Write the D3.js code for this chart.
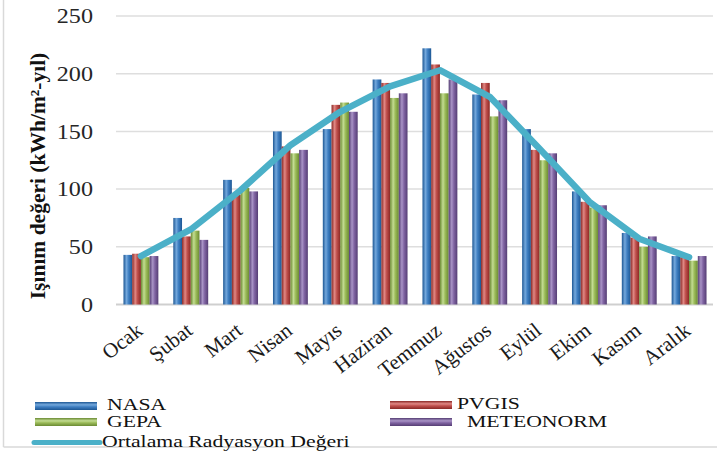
<!DOCTYPE html>
<html><head><meta charset="utf-8">
<script src="https://cdn.jsdelivr.net/npm/d3@7"></script>
<style>body{margin:0;background:#fff}svg{display:block}</style>
</head><body>
<svg id="c" width="717" height="454"></svg>
<script>
const months = ["Ocak","Şubat","Mart","Nisan","Mayıs","Haziran","Temmuz","Ağustos","Eylül","Ekim","Kasım","Aralık"];
const nasa = [43, 75, 108, 150, 152, 195, 222, 182, 152, 98, 62, 42];
const pvgis = [44, 59, 95, 137, 173, 192, 208, 192, 134, 89, 58, 41];
const gepa = [41, 64, 101, 131, 175, 179, 183, 163, 125, 84, 50, 38];
const meteonorm = [42, 56, 98, 134, 167, 183, 195, 177, 131, 86, 59, 42];
const average = [42, 65, 99, 138, 167, 189, 203, 180, 135, 89, 57, 41];
const yTicks = [0, 50, 100, 150, 200, 250];
const seriesNames = ["NASA","PVGIS","GEPA","METEONORM"];
const avgName = "Ortalama Radyasyon Değeri";
const yTitle = "Işınım değeri (kWh/m²-yıl)";

const seriesData = [nasa, pvgis, gepa, meteonorm];
const palette = [
  ["#1d5794","#3f7fc2","#74a8dc"],
  ["#8a2825","#c0504d","#e08884"],
  ["#6a8a33","#9bbb59","#c3dc92"],
  ["#553e74","#8064a2","#a994c6"]
];
const lineColor = "#4bb0c8";
const FONT = "'Liberation Serif', 'Times New Roman', serif";

const svg = d3.select("#c");
const defs = svg.append("defs");
palette.forEach((p,i)=>{
  const g = defs.append("linearGradient").attr("id","bg"+i).attr("x1",0).attr("x2",1).attr("y1",0).attr("y2",0);
  g.append("stop").attr("offset","0%").attr("stop-color",p[0]);
  g.append("stop").attr("offset","35%").attr("stop-color",p[2]);
  g.append("stop").attr("offset","60%").attr("stop-color",p[1]);
  g.append("stop").attr("offset","100%").attr("stop-color",p[0]);
  const h = defs.append("linearGradient").attr("id","lg"+i).attr("x1",0).attr("x2",0).attr("y1",0).attr("y2",1);
  h.append("stop").attr("offset","0%").attr("stop-color",p[0]);
  h.append("stop").attr("offset","35%").attr("stop-color",p[2]);
  h.append("stop").attr("offset","60%").attr("stop-color",p[1]);
  h.append("stop").attr("offset","100%").attr("stop-color",p[0]);
});

const x = d3.scaleBand().domain(months).range([116, 714]).paddingInner(0.3).paddingOuter(0.15);
const xs = d3.scaleBand().domain(d3.range(4)).range([0, x.bandwidth()]);
const y = d3.scaleLinear().domain([0, 250]).range([304.5, 16]);

// frame
svg.append("line").attr("x1",3.5).attr("x2",3.5).attr("y1",0).attr("y2",447).attr("stroke","#d9d9d9").attr("stroke-width",1.5);
svg.append("line").attr("x1",3.5).attr("x2",717).attr("y1",447).attr("y2",447).attr("stroke","#d9d9d9").attr("stroke-width",1.5);

// grid
svg.append("g").selectAll("line").data(yTicks).join("line")
  .attr("x1",116).attr("x2",713).attr("y1",d=>y(d)).attr("y2",d=>y(d))
  .attr("stroke",d=>d===0?"#cfcfcf":"#dedede").attr("stroke-width",d=>d===0?2:1.5);

// y tick labels
svg.append("g").selectAll("text").data(yTicks).join("text")
  .attr("transform",d=>`translate(93,${y(d)}) scale(1.15,1)`)
  .attr("dy","0.35em").attr("text-anchor","end")
  .attr("font-family",FONT).attr("font-size",21).attr("fill","#262626")
  .text(d=>d);

// y title
svg.append("text").attr("transform","translate(45,176) rotate(-90)")
  .attr("text-anchor","middle").attr("font-family",FONT)
  .attr("font-weight","bold").attr("font-size",21.5).attr("fill","#111")
  .text(yTitle);

// bars
const groups = svg.append("g").selectAll("g").data(months).join("g")
  .attr("transform",d=>`translate(${x(d)},0)`);
groups.selectAll("rect").data((m,i)=>seriesData.map((s,k)=>({k, v:s[i]}))).join("rect")
  .attr("x",d=>xs(d.k)).attr("width",xs.bandwidth())
  .attr("y",d=>y(d.v)).attr("height",d=>y(0)-y(d.v))
  .attr("fill",d=>`url(#bg${d.k})`);

// average line
const line = d3.line().x((d,i)=>x(months[i])+x.bandwidth()/2).y(d=>y(d));
svg.append("path").datum(average).attr("d",line).attr("fill","none")
  .attr("stroke",lineColor).attr("stroke-width",6.5).attr("stroke-linejoin","round").attr("stroke-linecap","round");

// month labels
svg.append("g").selectAll("text").data(months).join("text")
  .attr("transform",d=>`translate(${x(d)+x.bandwidth()/2+3},333) rotate(-38)`)
  .attr("text-anchor","end")
  .attr("font-family",FONT).attr("font-size",21).attr("fill","#1a1a1a")
  .text(d=>d);

// legend
const legItems = [
  {name:seriesNames[0], k:0, sx:35, sy:402, tx:107, ty:410},
  {name:seriesNames[1], k:1, sx:390, sy:401, tx:457, ty:409},
  {name:seriesNames[2], k:2, sx:35, sy:418, tx:107, ty:427},
  {name:seriesNames[3], k:3, sx:390, sy:418, tx:467, ty:427}
];
const lg = svg.append("g");
legItems.forEach(it=>{
  lg.append("rect").attr("x",it.sx).attr("y",it.sy).attr("width",62).attr("height",8).attr("fill",`url(#lg${it.k})`);
  lg.append("text").attr("transform",`translate(${it.tx},${it.ty}) scale(1.36,1)`)
    .attr("font-family",FONT).attr("font-size",16).attr("fill","#111").text(it.name);
});
lg.append("line").attr("x1",34).attr("x2",100).attr("y1",442.5).attr("y2",442.5)
  .attr("stroke",lineColor).attr("stroke-width",5).attr("stroke-linecap","round");
lg.append("text").attr("transform","translate(102,447) scale(1.36,1)")
  .attr("font-family",FONT).attr("font-size",16).attr("fill","#111").text(avgName);
</script>
</body></html>
